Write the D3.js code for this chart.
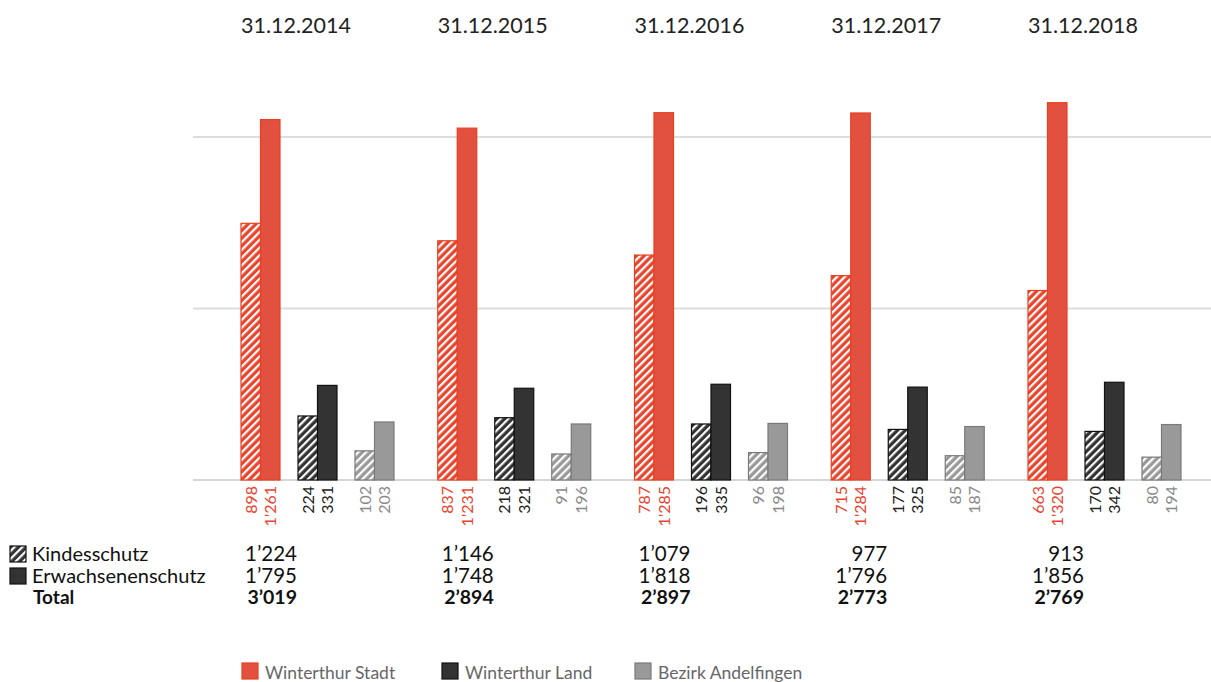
<!DOCTYPE html>
<html lang="de">
<head>
  <meta charset="UTF-8">
  <title>KESB Fälle</title>
  <style>
    body { margin: 0; background: #fff; font-family: 'Lato', 'Liberation Sans', sans-serif; }
    svg text { font-family: 'Lato', 'Liberation Sans', sans-serif; }
  </style>
</head>
<body>
<svg width="1211" height="682"></svg>
<script src="https://d3js.org/d3.v7.min.js"></script>
<script>
const years = ['31.12.2014', '31.12.2015', '31.12.2016', '31.12.2017', '31.12.2018'];
const regions = ['Winterthur Stadt', 'Winterthur Land', 'Bezirk Andelfingen'];

// Kindesschutz / Erwachsenenschutz je Region
const stadtKind = [898, 837, 787, 715, 663];
const stadtErw  = [1261, 1231, 1285, 1284, 1320];
const landKind  = [224, 218, 196, 177, 170];
const landErw   = [331, 321, 335, 325, 342];
const andKind   = [102, 91, 96, 85, 80];
const andErw    = [203, 196, 198, 187, 194];

const gridTicks = [0, 600, 1200];

const kind = [stadtKind, landKind, andKind];
const erw = [stadtErw, landErw, andErw];

const colors = {
  fill: ['#e25040', '#333333', '#999999'],
  stroke: ['#e8401f', '#111111', '#7a7a7a'],
  label: ['#e8452f', '#222222', '#8a8a8a']
};

const fmt = n => {
  const s = String(n);
  return s.length > 3 ? s.slice(0, -3) + '\u2019' + s.slice(-3) : s;
};
const fmtLabel = n => {
  const s = String(n);
  return s.length > 3 ? s.slice(0, -3) + '\'' + s.slice(-3) : s;
};

const svg = d3.select('svg');
const defs = svg.append('defs');
colors.fill.forEach((c, i) => {
  const p = defs.append('pattern')
    .attr('id', 'hatch' + i)
    .attr('patternUnits', 'userSpaceOnUse')
    .attr('width', 5.5).attr('height', 5.5)
    .attr('patternTransform', 'rotate(45)');
  p.append('rect').attr('width', 5.5).attr('height', 5.5).attr('fill', i === 0 ? '#e8452f' : c);
  p.append('rect').attr('x', 0).attr('width', 2.2).attr('height', 5.5).attr('fill', '#fff');
});

const y = d3.scaleLinear().domain([0, 1200]).range([480, 137]);
const x0 = d3.scaleBand().domain(years).range([241, 241 + 5 * 196.75]).paddingInner(0);
const x1 = d3.scaleBand().domain(regions).range([0, 153]).paddingInner(18 / 57).paddingOuter(0);
const barW = x1.bandwidth() / 2;

// Gitterlinien
svg.append('g').selectAll('line')
  .data(gridTicks)
  .join('line')
  .attr('x1', 193).attr('x2', 1211)
  .attr('y1', d => y(d)).attr('y2', d => y(d))
  .attr('stroke', d => d === 0 ? '#c8c8c8' : '#dddddd')
  .attr('stroke-width', d => d === 0 ? 1.5 : 2);

// Jahrestitel
svg.append('g').selectAll('text')
  .data(years)
  .join('text')
  .attr('x', d => x0(d))
  .attr('y', 33)
  .attr('font-size', 21.5)
  .attr('fill', '#222')
  .text(d => d);

// Balken
const bars = [];
years.forEach((yr, yi) => {
  regions.forEach((rg, ri) => {
    bars.push({ yr, rg, ri, type: 'kind', v: kind[ri][yi], off: 0 });
    bars.push({ yr, rg, ri, type: 'erw', v: erw[ri][yi], off: barW });
  });
});

const bx = d => x0(d.yr) + x1(d.rg) + d.off;

svg.append('g').selectAll('rect')
  .data(bars)
  .join('rect')
  .attr('x', d => bx(d))
  .attr('y', d => y(d.v))
  .attr('width', barW)
  .attr('height', d => y(0) - y(d.v))
  .attr('fill', d => d.type === 'kind' ? `url(#hatch${d.ri})` : colors.fill[d.ri])
  .attr('stroke', d => colors.stroke[d.ri])
  .attr('stroke-width', 1.2);

// Wertelabels
svg.append('g').selectAll('text')
  .data(bars)
  .join('text')
  .attr('transform', d => `translate(${bx(d) + barW / 2},486) rotate(-90)`)
  .attr('text-anchor', 'end')
  .attr('dy', '0.36em')
  .attr('font-size', 16)
  .attr('fill', d => colors.label[d.ri])
  .text(d => fmtLabel(d.v));

// Tabelle links
const rowsY = [561, 583, 604];
const kindTotal = years.map((_, i) => d3.sum(kind, a => a[i]));
const erwTotal = years.map((_, i) => d3.sum(erw, a => a[i]));
const allTotal = years.map((_, i) => kindTotal[i] + erwTotal[i]);

const tbl = svg.append('g');
tbl.append('rect').attr('x', 10).attr('y', 546).attr('width', 16).attr('height', 16)
  .attr('fill', 'url(#hatch1)').attr('stroke', '#111').attr('stroke-width', 1.2);
tbl.append('rect').attr('x', 10).attr('y', 568).attr('width', 16).attr('height', 16)
  .attr('fill', '#333').attr('stroke', '#111').attr('stroke-width', 1.2);
[['Kindesschutz', 'normal', 32], ['Erwachsenenschutz', 'normal', 32], ['Total', 'bold', 33]].forEach((r, i) => {
  tbl.append('text').attr('x', r[2]).attr('y', rowsY[i])
    .attr('font-size', i === 2 ? 19 : 20).attr('font-weight', r[1]).attr('fill', '#111').text(r[0]);
});
[kindTotal, erwTotal, allTotal].forEach((arr, ri) => {
  tbl.selectAll(null)
    .data(years)
    .join('text')
    .attr('x', d => x0(d) + 56)
    .attr('y', rowsY[ri])
    .attr('text-anchor', 'end')
    .attr('font-size', ri === 2 ? 19.5 : 20.5)
    .attr('font-weight', ri === 2 ? 'bold' : 'normal')
    .attr('fill', '#111')
    .text((d, i) => fmt(arr[i]));
});

// Legende unten
const legX = [242, 442, 635];
const leg = svg.append('g').selectAll('g')
  .data(regions)
  .join('g')
  .attr('transform', (d, i) => `translate(${legX[i]},663)`);
leg.append('rect').attr('width', 16).attr('height', 16)
  .attr('fill', (d, i) => colors.fill[i])
  .attr('stroke', (d, i) => colors.stroke[i]).attr('stroke-width', 1.2);
leg.append('text').attr('x', 23).attr('y', 16)
  .attr('font-size', 17.5).attr('fill', '#666').text(d => d);
</script>
</body>
</html>
